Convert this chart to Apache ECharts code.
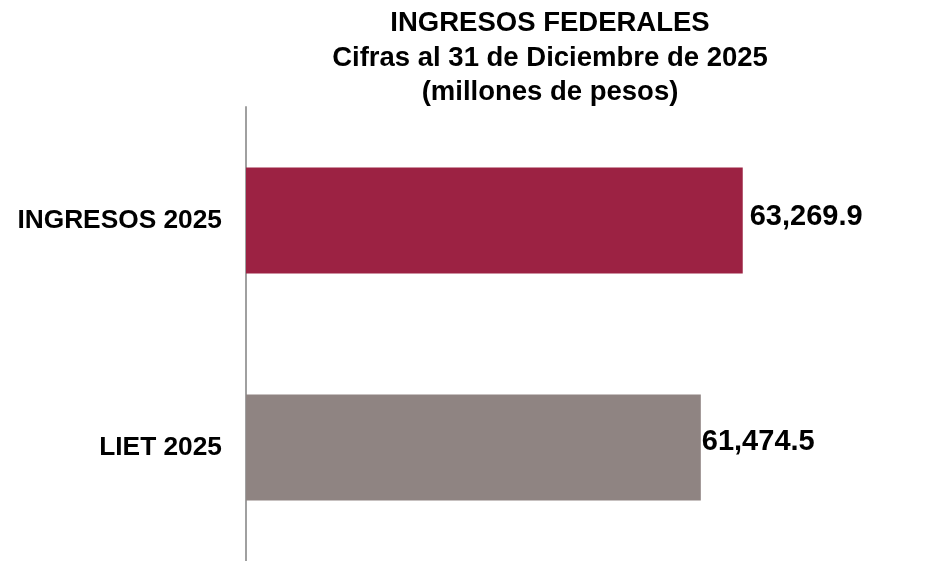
<!DOCTYPE html>
<html>
<head>
<meta charset="utf-8">
<script src="https://cdn.jsdelivr.net/npm/echarts@6/dist/echarts.min.js"></script>
<style>html,body{margin:0;padding:0;background:#fff;}#c{width:928px;height:561px;}</style>
</head>
<body>
<div id="c"></div>
<script>
const categories = ['INGRESOS 2025', 'LIET 2025'];
const values = [63269.9, 61474.5];
const titleLines = ['INGRESOS FEDERALES', 'Cifras al 31 de Diciembre de 2025', '(millones de pesos)'];

const barColors = ['#9C2243', '#8F8482'];
const labelDistance = [7, 1];
const labelOffsetY = [-4, -6];
const FONT = '"Liberation Sans", Arial, sans-serif';

const chart = echarts.init(document.getElementById('c'), null, {renderer: 'canvas'});
const fmt = v => v.toLocaleString('en-US', {minimumFractionDigits: 1, maximumFractionDigits: 1});

chart.setOption({
  animation: false,
  backgroundColor: '#ffffff',
  graphic: titleLines.map((t, i) => ({
    type: 'text',
    x: 550,
    y: 23.5 + i * 34.5,
    style: {
      text: t,
      textAlign: 'center',
      textVerticalAlign: 'middle',
      font: 'bold 27.5px ' + FONT,
      fill: '#000'
    }
  })),
  grid: {left: 246, width: 560.5, top: 107, height: 455, containLabel: false},
  xAxis: {
    type: 'value', min: 42000, max: 66000,
    show: false
  },
  yAxis: {
    type: 'category',
    data: categories,
    inverse: true,
    axisLine: {show: true, lineStyle: {color: '#A0A0A0', width: 2}},
    axisTick: {show: false},
    axisLabel: {
      margin: 24, color: '#000', fontFamily: FONT, fontWeight: 'bold', fontSize: 26.3
    }
  },
  series: [{
    type: 'bar',
    barWidth: 106,
    data: values.map((v, i) => ({
      value: v,
      itemStyle: {color: barColors[i]},
      label: {distance: labelDistance[i], offset: [0, labelOffsetY[i]]}
    })),
    label: {
      show: true, position: 'right',
      formatter: p => fmt(p.value),
      color: '#000', fontFamily: FONT, fontWeight: 'bold', fontSize: 29
    }
  }]
});
</script>
</body>
</html>
